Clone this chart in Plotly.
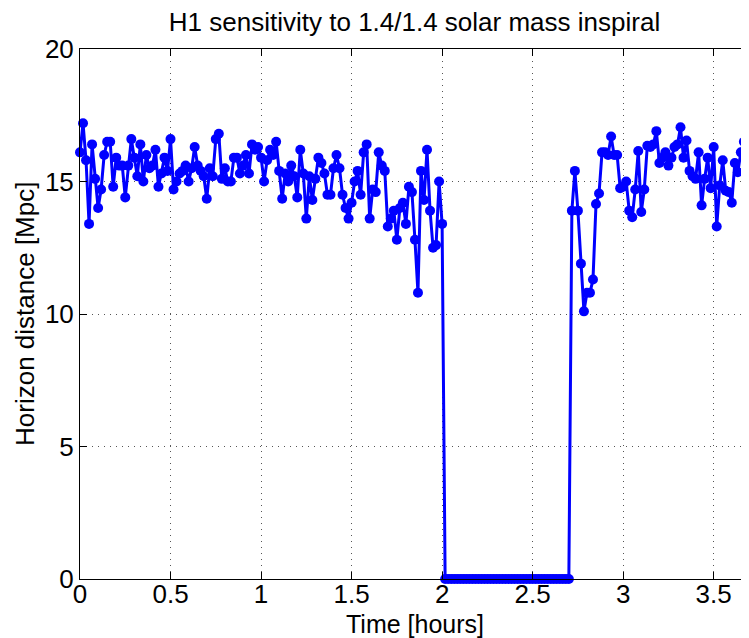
import plotly.graph_objects as go

# Horizon distance [Mpc], one sample per minute
horizon_before = [
    16.1, 17.2, 15.8, 13.4, 16.4, 15.1, 14.0, 14.7, 16.0, 16.5,
    16.5, 14.8, 15.9, 15.6, 15.6, 14.4, 15.6, 16.6, 15.9, 15.2,
    16.4, 15.0, 16.0, 15.5, 15.6, 16.2, 14.8, 15.3, 15.9, 15.4,
    16.6, 14.7, 15.0, 15.3, 15.4, 15.6, 15.0, 15.5, 16.3, 15.6,
    15.4, 15.2, 14.35, 15.5, 15.2, 16.6, 16.8, 15.1, 15.5, 15.0,
    15.0, 15.9, 15.9, 15.3, 15.6, 16.0,
    15.3, 16.4, 16.2, 16.3, 15.9, 15.0, 15.8, 16.2, 16.0, 16.5,
    15.4, 14.35, 15.3, 15.0, 15.6, 15.2, 14.4, 16.2, 15.3, 13.6,
    15.2, 14.3, 15.1, 15.9, 15.7, 15.3, 14.5, 14.5, 15.5, 16.0,
    15.5, 14.5, 14.0, 13.6, 14.2, 15.0, 15.4, 14.5, 16.1, 16.4,
    13.6, 14.7, 14.6, 16.1, 15.6, 15.4, 13.3, 13.6, 13.9, 12.8,
    14.0, 14.2, 13.4, 14.8, 14.6, 12.8, 10.8, 15.4, 14.3, 16.2,
    13.9, 12.5, 12.6, 15.0, 13.4,
]
horizon_outage = [
    0, 0, 0, 0, 0, 0, 0, 0, 0, 0,
    0, 0, 0, 0, 0, 0, 0, 0, 0, 0,
    0, 0, 0, 0, 0, 0, 0, 0, 0, 0,
    0, 0, 0, 0, 0, 0, 0, 0, 0, 0,
    0, 0,
]
horizon_after = [
    13.9, 15.4, 13.9, 11.9, 10.1, 10.8, 10.8, 11.3, 14.15, 14.55,
    16.1, 16.1, 16.0, 16.7, 16.0, 16.0, 14.75, 14.8, 15.0, 13.9,
    13.65, 14.7, 16.15, 13.85, 14.7, 16.35, 16.3, 16.4, 16.9, 15.7,
    15.9, 16.1, 15.6, 15.9, 16.3, 16.4, 17.05, 15.9, 16.55, 15.4,
    15.2, 15.1, 16.1, 14.1, 15.1, 15.9, 14.75, 16.3, 13.3, 14.85,
    15.8, 14.65, 14.6, 14.2, 15.7, 15.35, 16.1, 16.5, 16.9, 17.0,
]
horizon_mpc = horizon_before + horizon_outage + horizon_after
sample_minutes = 1
time_hours = [i * sample_minutes / 60 for i in range(len(horizon_mpc))]

x_ticks = [0, 0.5, 1, 1.5, 2, 2.5, 3, 3.5]
x_tick_text = ["0", "0.5", "1", "1.5", "2", "2.5", "3", "3.5"]
y_ticks = [0, 5, 10, 15, 20]

FONT = "Liberation Sans, Arial, Helvetica, sans-serif"

# page body has an 8px margin; figure sized to fill the rest of the window
FIG_W, FIG_H = 741, 630
M_L, M_R, M_T, M_B = 72, 0, 41, 59
plot_h = FIG_H - M_T - M_B
plot_w = FIG_W - M_L - M_R

fig = go.Figure()
fig.add_trace(go.Scatter(
    x=time_hours, y=horizon_mpc, mode="lines+markers",
    line=dict(color="#0000FF", width=3),
    marker=dict(color="#0000FF", size=10, line=dict(width=0)),
    cliponaxis=False, showlegend=False,
))

grid = dict(showgrid=True, gridcolor="#555555", gridwidth=1, griddash="1px,5px")
fig.update_layout(
    width=FIG_W, height=FIG_H,
    margin=dict(l=M_L, r=M_R, t=M_T, b=M_B, autoexpand=False),
    paper_bgcolor="white", plot_bgcolor="white",
    font=dict(family=FONT, size=26, color="black"),
    title=dict(text="H1 sensitivity to 1.4/1.4 solar mass inspiral",
               x=0.5, xref="paper", xanchor="center",
               y=1 - 14 / FIG_H, yref="container", yanchor="middle",
               font=dict(size=26, family=FONT, color="black")),
    xaxis=dict(range=[0, 3.695], tickvals=x_ticks, ticktext=x_tick_text,
               ticks="inside", ticklen=7, tickcolor="black",
               showline=True, linecolor="black", linewidth=1, mirror="ticks",
               zeroline=False, automargin=False, ticklabelstandoff=-8,
               tickfont=dict(size=26), **grid),
    yaxis=dict(range=[0, 20], tickvals=y_ticks,
               ticks="inside", ticklen=7, tickcolor="black",
               showline=True, linecolor="black", linewidth=1, mirror=False,
               zeroline=False, automargin=False, ticklabelstandoff=0,
               tickfont=dict(size=26), **grid),
    annotations=[
        dict(text="Time [hours]", x=0.5, xref="paper", xanchor="center",
             y=-(616 - 571) / plot_h, yref="paper", yanchor="middle",
             showarrow=False, font=dict(size=25, family=FONT, color="black")),
        dict(text="Horizon distance [Mpc]", textangle=-90,
             x=-(72 - 17) / plot_w, xref="paper", xanchor="center",
             y=0.5, yref="paper", yanchor="middle", showarrow=False,
             font=dict(size=26, family=FONT, color="black")),
    ],
)
fig.write_html("out.html")
